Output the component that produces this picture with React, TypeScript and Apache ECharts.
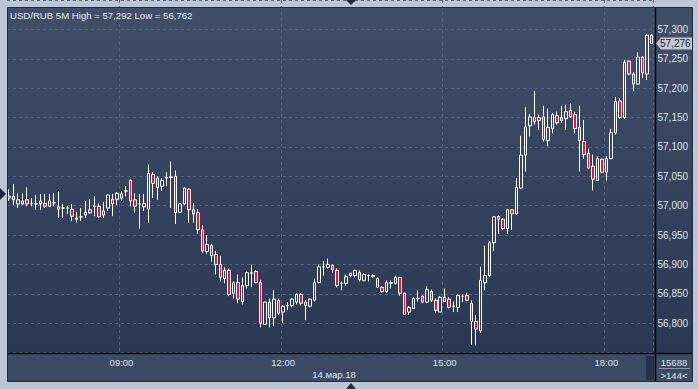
import React, { useEffect, useRef } from 'react';
import * as echarts from 'echarts';

// ---- data (USD/RUB, 5-minute candles, 14.03.18) ----
const opens = [
  57.013, 57.016, 57.003, 57.003, 57.010, 57.004, 57.003, 57.003, 57.004, 56.999,
  57.005, 56.998, 56.996, 56.996, 56.994, 56.977, 56.981, 56.984, 56.988, 56.999,
  56.999, 56.984, 56.996, 57.011, 57.011, 57.013, 57.025, 57.043, 57.010, 57.003,
  57.004, 56.994, 57.053, 57.047, 57.033, 57.047, 57.048, 57.050, 56.989, 57.003,
  57.028, 56.993, 56.988, 56.959, 56.922, 56.932, 56.917, 56.900, 56.876, 56.890,
  56.851, 56.869, 56.837, 56.864, 56.886, 56.888, 56.869, 56.798, 56.836, 56.809,
  56.839, 56.819, 56.830, 56.830, 56.836, 56.849, 56.836, 56.829, 56.839, 56.869,
  56.896, 56.895, 56.898, 56.890, 56.868, 56.868, 56.881, 56.881, 56.886, 56.873,
  56.881, 56.881, 56.876, 56.861, 56.854, 56.869, 56.868, 56.878, 56.851, 56.819,
  56.825, 56.842, 56.846, 56.836, 56.854, 56.839, 56.819, 56.844, 56.841, 56.829,
  56.827, 56.846, 56.847, 56.834, 56.803, 56.787, 56.869, 56.881, 56.937, 56.982,
  56.977, 56.961, 56.993, 56.986, 57.030, 57.086, 57.136, 57.150, 57.150, 57.151,
  57.111, 57.131, 57.153, 57.150, 57.148, 57.162, 57.155, 57.133, 57.109, 57.089,
  57.067, 57.043, 57.079, 57.057, 57.080, 57.124, 57.178, 57.150, 57.246, 57.224,
  57.207, 57.253, 57.224, 57.290,
];
const closes = [
  57.016, 57.010, 57.010, 57.008, 57.003, 57.004, 57.003, 57.008, 56.999, 57.008,
  57.005, 56.994, 56.996, 56.996, 56.982, 56.979, 56.981, 56.989, 56.993, 56.999,
  56.981, 56.991, 57.018, 57.003, 57.021, 57.020, 57.025, 57.008, 56.999, 57.003,
  56.998, 57.055, 57.038, 57.031, 57.043, 57.048, 57.049, 56.988, 57.003, 57.030,
  56.993, 56.986, 56.959, 56.923, 56.934, 56.915, 56.900, 56.878, 56.890, 56.849,
  56.869, 56.841, 56.864, 56.886, 56.885, 56.869, 56.800, 56.836, 56.809, 56.841,
  56.817, 56.829, 56.830, 56.841, 56.849, 56.834, 56.830, 56.841, 56.869, 56.896,
  56.896, 56.900, 56.891, 56.864, 56.868, 56.879, 56.885, 56.890, 56.874, 56.883,
  56.881, 56.879, 56.861, 56.854, 56.869, 56.868, 56.878, 56.851, 56.815, 56.827,
  56.842, 56.842, 56.836, 56.857, 56.839, 56.822, 56.844, 56.837, 56.827, 56.829,
  56.847, 56.846, 56.839, 56.803, 56.790, 56.873, 56.881, 56.937, 56.981, 56.977,
  56.961, 56.993, 56.986, 57.031, 57.086, 57.134, 57.151, 57.143, 57.145, 57.113,
  57.133, 57.155, 57.141, 57.145, 57.160, 57.151, 57.131, 57.111, 57.087, 57.064,
  57.045, 57.080, 57.057, 57.080, 57.124, 57.177, 57.150, 57.244, 57.224, 57.207,
  57.253, 57.226, 57.290, 57.276,
];
const lows = [
  57.008, 57.001, 56.996, 57.001, 56.999, 56.999, 56.993, 56.993, 56.996, 56.998,
  56.999, 56.979, 56.979, 56.986, 56.974, 56.971, 56.974, 56.979, 56.986, 56.982,
  56.979, 56.979, 56.991, 56.982, 57.001, 57.008, 57.016, 56.999, 56.988, 56.961,
  56.991, 56.971, 57.013, 57.010, 57.025, 57.033, 56.996, 56.969, 56.988, 57.001,
  56.971, 56.971, 56.952, 56.920, 56.918, 56.905, 56.883, 56.871, 56.868, 56.846,
  56.842, 56.834, 56.832, 56.859, 56.861, 56.868, 56.793, 56.797, 56.793, 56.795,
  56.814, 56.800, 56.822, 56.827, 56.832, 56.830, 56.805, 56.827, 56.837, 56.868,
  56.881, 56.893, 56.886, 56.861, 56.856, 56.864, 56.878, 56.878, 56.871, 56.871,
  56.871, 56.878, 56.860, 56.852, 56.851, 56.859, 56.866, 56.847, 56.814, 56.814,
  56.824, 56.837, 56.834, 56.834, 56.836, 56.817, 56.819, 56.836, 56.825, 56.819,
  56.819, 56.836, 56.837, 56.763, 56.762, 56.783, 56.856, 56.879, 56.923, 56.952,
  56.959, 56.952, 56.959, 56.984, 57.028, 57.058, 57.118, 57.138, 57.129, 57.109,
  57.101, 57.123, 57.138, 57.141, 57.129, 57.150, 57.123, 57.058, 57.080, 57.062,
  57.026, 57.042, 57.055, 57.043, 57.079, 57.121, 57.148, 57.148, 57.222, 57.195,
  57.206, 57.217, 57.214, 57.275,
];
const highs = [
  57.028, 57.037, 57.021, 57.021, 57.031, 57.013, 57.018, 57.020, 57.020, 57.020,
  57.021, 57.025, 57.003, 56.999, 57.003, 56.989, 56.996, 57.008, 57.011, 57.016,
  57.004, 57.006, 57.020, 57.020, 57.023, 57.025, 57.033, 57.045, 57.021, 57.020,
  57.020, 57.070, 57.057, 57.050, 57.047, 57.057, 57.075, 57.060, 57.004, 57.031,
  57.030, 57.004, 56.994, 56.967, 56.950, 56.935, 56.923, 56.915, 56.895, 56.893,
  56.871, 56.883, 56.878, 56.888, 56.900, 56.890, 56.874, 56.837, 56.842, 56.856,
  56.842, 56.830, 56.836, 56.842, 56.851, 56.851, 56.839, 56.842, 56.876, 56.900,
  56.906, 56.910, 56.900, 56.893, 56.871, 56.883, 56.886, 56.891, 56.890, 56.885,
  56.883, 56.883, 56.878, 56.863, 56.873, 56.873, 56.881, 56.879, 56.852, 56.829,
  56.844, 56.856, 56.847, 56.863, 56.857, 56.842, 56.846, 56.859, 56.844, 56.837,
  56.849, 56.849, 56.852, 56.839, 56.814, 56.896, 56.932, 56.940, 56.982, 56.984,
  56.979, 56.994, 56.994, 57.047, 57.119, 57.168, 57.156, 57.195, 57.155, 57.170,
  57.165, 57.158, 57.160, 57.170, 57.172, 57.175, 57.160, 57.170, 57.146, 57.097,
  57.087, 57.084, 57.080, 57.084, 57.131, 57.185, 57.183, 57.248, 57.248, 57.227,
  57.261, 57.254, 57.292, 57.292,
];

const symbol = 'USD/RUB';
const period = '5M';
const dateLabel = '14.мар.18';
const timeTicks = ['09:00', '12:00', '15:00', '18:00'];
const counterLabel = '15688';
const refPrice = 57.02;
const startMinutes = 6 * 60 + 55;
const barMinutes = 5;

const categories = opens.map((_, i) => {
  const m = startMinutes + i * barMinutes;
  return `${String(Math.floor(m / 60)).padStart(2, '0')}:${String(m % 60).padStart(2, '0')}`;
});

const fmt = (v: number) => v.toFixed(3).replace('.', ',');
const FONT = 'Liberation Sans, Arial, sans-serif';
const TEXT = '#dde4ee';
const GRIDC = '#56637b';

export default function App() {
  const ref = useRef<HTMLDivElement>(null);

  useEffect(() => {
    if (!ref.current) return;
    const chart = echarts.init(ref.current, null, { renderer: 'svg' });
    const candleData = opens.map((o, i) => [o, closes[i], lows[i], highs[i]]);
    const isTick = (_: number, v: string) => timeTicks.includes(v);
    const option: any = {
      animation: false,
      backgroundColor: '#bcc6d4',
      grid: { left: 7, right: 44.5, top: -2.6, bottom: 36.4, containLabel: false },
      xAxis: {
        type: 'category',
        data: categories,
        boundaryGap: true,
        axisLine: { show: false },
        axisTick: { show: false },
        axisLabel: { interval: isTick, color: TEXT, fontSize: 9.5, fontFamily: FONT, margin: 5 },
        splitLine: { show: true, interval: isTick, lineStyle: { color: GRIDC, type: [3, 3], width: 1 } },
      },
      yAxis: {
        type: 'value',
        position: 'right',
        min: 56.75,
        max: 57.35,
        interval: 0.05,
        axisLine: { show: false },
        axisTick: { show: false },
        axisLabel: {
          formatter: (v: number) => fmt(v),
          color: TEXT,
          fontSize: 10,
          fontFamily: FONT,
          margin: 4,
          showMinLabel: false,
          showMaxLabel: false,
        },
        splitLine: { show: true, lineStyle: { color: GRIDC, type: [3, 3], width: 1 } },
      },
      series: [
        {
          type: 'candlestick',
          data: candleData,
          barWidth: 3,
          itemStyle: {
            color: 'transparent',
            color0: '#e3173e',
            borderColor: '#ffffff',
            borderColor0: '#ffffff',
            borderWidth: 1,
          },
        },
      ],
    };
    chart.setOption(option);

    const lastClose = closes[closes.length - 1];
    const maxHigh = Math.max(...highs);
    const minLow = Math.min(...lows);
    const yLast = chart.convertToPixel({ yAxisIndex: 0 }, lastClose) as number;
    const yRef = chart.convertToPixel({ yAxisIndex: 0 }, refPrice) as number;

    const grad = new echarts.graphic.LinearGradient(0, 0, 0, 1, [
      { offset: 0, color: '#414e68' },
      { offset: 1, color: '#2b3854' },
    ]);

    const elements: any[] = [
      { type: 'rect', z: -10, silent: true, shape: { x: 8, y: 8, width: 684, height: 346 }, style: { fill: grad } },
      { type: 'rect', z: -10, silent: true, shape: { x: 8, y: 354, width: 684, height: 27 }, style: { fill: '#3d4a64' } },
      { type: 'rect', z: 100, silent: true, shape: { x: 646, y: 356, width: 8, height: 24 }, style: { fill: '#27324a' } },
      { type: 'line', z: 100, silent: true, shape: { x1: 8, y1: 353.5, x2: 692, y2: 353.5 }, style: { stroke: '#05080e', lineWidth: 1.5 } },
      { type: 'line', z: 100, silent: true, shape: { x1: 655.5, y1: 8, x2: 655.5, y2: 381 }, style: { stroke: '#05080e', lineWidth: 1.5 } },
      { type: 'rect', z: 100, silent: true, shape: { x: 7.5, y: 7.5, width: 685, height: 374 }, style: { fill: 'none', stroke: '#222b3c', lineWidth: 1 } },
      { type: 'line', z: 100, silent: true, shape: { x1: 659, y1: 368.5, x2: 690, y2: 368.5 }, style: { stroke: '#8a95a8', lineWidth: 1 } },
      {
        type: 'text', z: 100, silent: true, x: 10, y: 15,
        style: { text: `${symbol} ${period} High = ${fmt(maxHigh)} Low = ${fmt(minLow)}`, fill: '#e6ecf4', font: `9.6px ${FONT}`, verticalAlign: 'middle', align: 'left' },
      },
      {
        type: 'text', z: 100, silent: true, x: 334, y: 374,
        style: { text: dateLabel, fill: TEXT, font: `9.5px ${FONT}`, verticalAlign: 'middle', align: 'center' },
      },
      {
        type: 'text', z: 100, silent: true, x: 674, y: 362,
        style: { text: counterLabel, fill: TEXT, font: `9.5px ${FONT}`, verticalAlign: 'middle', align: 'center' },
      },
      {
        type: 'text', z: 100, silent: true, x: 674, y: 375,
        style: { text: `>${opens.length}<`, fill: TEXT, font: `9.5px ${FONT}`, verticalAlign: 'middle', align: 'center' },
      },
      {
        type: 'polygon', z: 100, silent: true,
        shape: { points: [[656, yLast], [661, yLast - 6], [692, yLast - 6], [692, yLast + 6], [661, yLast + 6]] },
        style: { fill: '#c3c8d0' },
      },
      {
        type: 'text', z: 101, silent: true, x: 660, y: yLast,
        style: { text: fmt(lastClose), fill: '#1c2434', font: `10px ${FONT}`, verticalAlign: 'middle', align: 'left' },
      },
      {
        type: 'polygon', z: 100, silent: true,
        shape: { points: [[0, yRef - 6], [0, yRef + 6], [6, yRef]] },
        style: { fill: '#1f2a3e' },
      },
      {
        type: 'polygon', z: 100, silent: true,
        shape: { points: [[346, 0], [356, 0], [351, 5]] },
        style: { fill: '#1f2a3e' },
      },
      {
        type: 'polygon', z: 100, silent: true,
        shape: { points: [[346, 389], [356, 389], [351, 383]] },
        style: { fill: '#1f2a3e' },
      },
    ];
    chart.setOption({ graphic: { elements } });

    return () => chart.dispose();
  }, []);

  return <div ref={ref} style={{ position: 'fixed', left: 0, top: 0, width: 698, height: 389 }} />;
}
